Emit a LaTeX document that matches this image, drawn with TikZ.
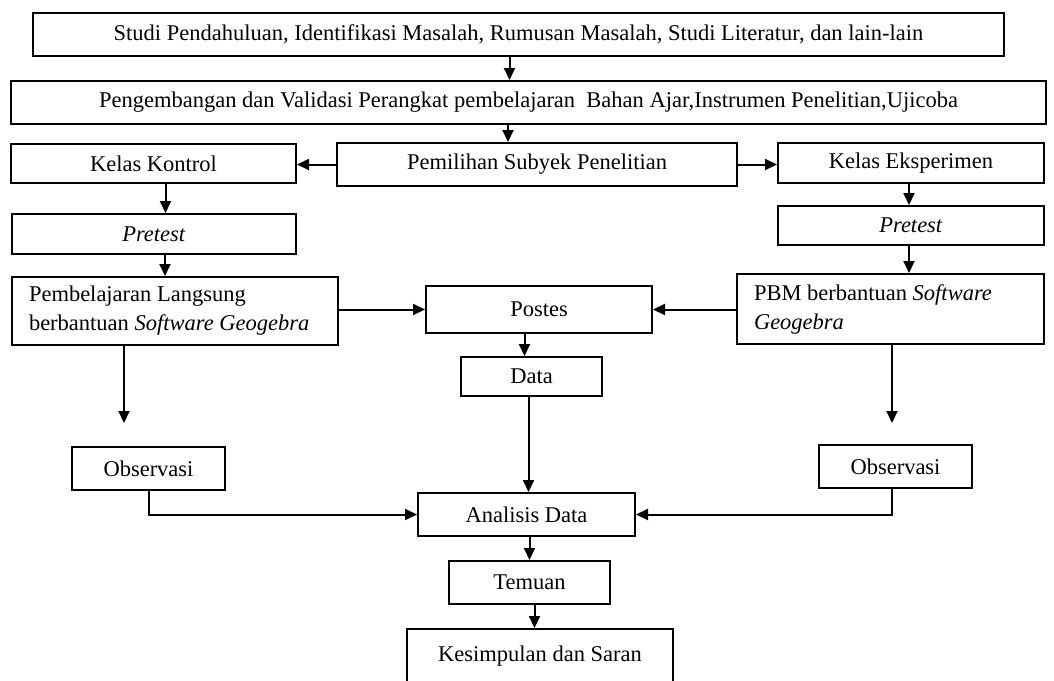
\documentclass[tikz,border=0pt]{standalone}
\usepackage{fontspec}
\setmainfont{Liberation Serif}
\usepackage{tikz}
\usetikzlibrary{shapes,positioning,arrows.meta}

\begin{document}
\begin{tikzpicture}[%
    x=1pt, y=-1pt,                        % work in pixel-like units, top down
    >={Triangle[length=12pt,width=11pt]}, % filled arrow heads
    line width=2pt,
    font=\fontsize{22.5}{29}\selectfont,
    ]
\tikzset{
  base/.style={draw, rectangle, inner sep=0pt, align=center},
  proc/.style={base, minimum height=43pt},
  wide/.style={base, align=flush left, inner xsep=17pt},
}
\useasboundingbox (0,0) rectangle (1054,680);
\clip (0,0) rectangle (1054,680);

\node [proc, minimum width=971pt] (p0) at (518.5,34) {Studi Pendahuluan, Identifikasi Masalah, Rumusan Masalah, Studi Literatur, dan lain-lain};
\node [proc, minimum width=1035pt] (p1) at (528.5,102.5) {Pengembangan dan Validasi Perangkat pembelajaran\ \ Bahan Ajar,Instrumen Penelitian,Ujicoba};
\node [proc, minimum width=400pt] (p2) at (537,164.5) {Pemilihan Subyek Penelitian};

\node [proc, minimum width=285pt, minimum height=39pt] (p3) at (153.5,163.5) {Kelas Kontrol};
\node [proc, minimum width=284pt, minimum height=40pt] (p4) at (154,234) {\textit{Pretest}};
\node [wide, text width=292pt, minimum height=68pt] (p5) at (175,311) {Pembelajaran Langsung\\berbantuan \textit{Software Geogebra}};

\node [proc, minimum width=266pt, minimum height=40pt] (p6) at (911,163) {Kelas Eksperimen};
\node [proc, minimum width=266pt, minimum height=39pt] (p7) at (911,225.5) {\textit{Pretest}};
\node [wide, text width=273pt, minimum height=70pt] (p8) at (890.5,309) {PBM berbantuan \textit{Software}\\\textit{Geogebra}};

\node [proc, minimum width=226pt, minimum height=47pt] (p9) at (539,309.5) {Postes};
\node [proc, minimum width=141pt, minimum height=39pt] (p10) at (531.5,376.5) {Data};

\node [proc, minimum width=153pt] (p11) at (148.5,468.5) {Observasi};
\node [proc, minimum width=153pt] (p12) at (895.5,466.5) {Observasi};

\node [proc, minimum width=217pt] (p13) at (526.5,514.5) {Analisis Data};
\node [proc, minimum width=161pt] (p14) at (529.5,582.5) {Temuan};
\node [proc, minimum width=266pt, minimum height=55pt] (p15) at (540,656.5) {Kesimpulan dan Saran};

\coordinate (e1) at (124,423);
\coordinate (e2) at (892,423);

%connect
\draw [->] ([xshift=-9pt]p0.south) -- ([xshift=-9pt]p0.south |- p1.north);
\draw [->] ([xshift=-29pt]p2.north |- p1.south) -- ([xshift=-29pt]p2.north);
\draw [->] (p2.west) -- (p2.west -| p3.east);
\draw [->] (p2.east) -- (p2.east -| p6.west);

\draw [->] ([xshift=12pt]p3.south) -- ([xshift=12pt]p3.south |- p4.north);
\draw [->] ([xshift=11pt]p4.south) -- ([xshift=11pt]p4.south |- p5.north);
\draw [->] ([xshift=-2pt]p6.south) -- ([xshift=-2pt]p6.south |- p7.north);
\draw [->] ([xshift=-2pt]p7.south) -- ([xshift=-2pt]p7.south |- p8.north);

\draw [->] (p9.west -| p5.east) -- (p9.west);
\draw [->] (p9.east -| p8.west) -- (p9.east);
\draw [->] ([xshift=-7pt]p10.north |- p9.south) -- ([xshift=-7pt]p10.north);
\draw [->] ([xshift=-3pt]p10.south) -- ([xshift=-3pt]p10.south |- p13.north);

\draw [->] (p5.south -| e1) -- (e1);
\draw [->] (p8.south -| e2) -- (e2);

\draw [->] (p11.south) |- (p13.west);
\draw [->] ([xshift=-4pt]p12.south) |- (p13.east);

\draw [->] (p14.north |- p13.south) -- (p14.north);
\draw [->] ([xshift=5pt]p14.south) -- ([xshift=5pt]p14.south |- p15.north);

\end{tikzpicture}
\end{document}
